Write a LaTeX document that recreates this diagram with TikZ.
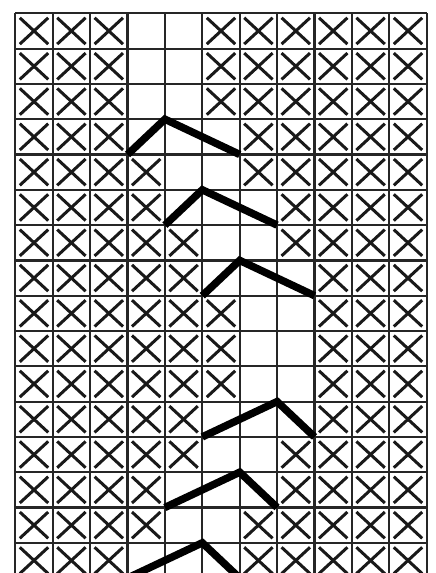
\documentclass[tikz,border=0pt]{standalone}
\begin{document}
\begin{tikzpicture}[x=1pt,y=-1pt,
  gridline/.style={line width=2.2pt, black!85},
  xmark/.style={line width=3pt, black!90},
  cable/.style={line width=7.5pt, black, line join=miter}]
\useasboundingbox (0,0) rectangle (436,573);
\fill[white] (0,0) rectangle (436,573);
\begin{scope}
\clip (0,0) rectangle (436,573);
\def\cw{37.4}\def\rh{35.3}\def\xo{15.3}\def\yo{13.3}
% X marks: row / first empty column / last empty column
\foreach \r/\a/\b in {1/4/5,2/4/5,3/4/5,4/4/6,5/5/6,6/5/7,7/6/7,8/6/8,
                      9/7/8,10/7/8,11/7/8,12/6/8,13/6/7,14/5/7,15/5/6,16/4/6}{
  \foreach \c in {1,...,11}{
    \pgfmathtruncatemacro\inside{((\c>=\a)&&(\c<=\b))?1:0}
    \ifnum\inside=0
      \draw[xmark] ({\xo+\cw*(\c-1)+4.5},{\yo+\rh*(\r-1)+4.5}) -- ({\xo+\cw*\c-4.5},{\yo+\rh*\r-4.5});
      \draw[xmark] ({\xo+\cw*(\c-1)+4.5},{\yo+\rh*\r-4.5}) -- ({\xo+\cw*\c-4.5},{\yo+\rh*(\r-1)+4.5});
    \fi
  }
}
% grid
\foreach \c in {0,...,11}
  \draw[gridline] ({\xo+\cw*\c},{\yo}) -- ({\xo+\cw*\c},{\yo+16*\rh});
\foreach \r in {0,...,16}
  \draw[gridline] ({\xo},{\yo+\rh*\r}) -- ({\xo+11*\cw},{\yo+\rh*\r});
% cables: row / start column / peak column / end column
\foreach \r/\s/\p/\e in {4/4/5/7,6/5/6/8,8/6/7/9,12/6/8/9,14/5/7/8,16/4/6/7}{
  \draw[cable] ({\xo+\cw*(\s-1)},{\yo+\rh*\r}) -- ({\xo+\cw*(\p-1)},{\yo+\rh*(\r-1)})
    -- ({\xo+\cw*(\e-1)},{\yo+\rh*\r});
}
\end{scope}
\end{tikzpicture}
\end{document}
